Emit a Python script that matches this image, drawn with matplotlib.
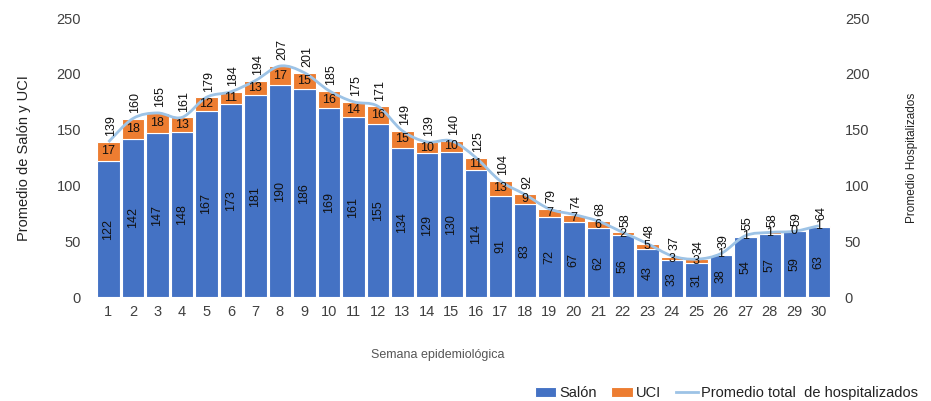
import matplotlib.pyplot as plt
import numpy as np
from matplotlib.path import Path
from matplotlib.patches import PathPatch

plt.rcParams['font.family'] = ['Liberation Sans', 'DejaVu Sans']

semanas = list(range(1, 31))
salon = [122, 142, 147, 148, 167, 173, 181, 190, 186, 169, 161, 155, 134, 129, 130,
         114, 91, 83, 72, 67, 62, 56, 43, 33, 31, 38, 54, 57, 59, 63]
uci = [17, 18, 18, 13, 12, 11, 13, 17, 15, 16, 14, 16, 15, 10, 10,
       11, 13, 9, 7, 7, 6, 2, 5, 3, 3, 1, 1, 1, 0, 1]
total = [139, 160, 165, 161, 179, 184, 194, 207, 201, 185, 175, 171, 149, 139, 140,
         125, 104, 92, 79, 74, 68, 58, 48, 37, 34, 39, 55, 58, 59, 64]

azul = '#4472C4'
naranja = '#ED7D31'
celeste = '#9DC3E6'
gris = '#404040'

fig = plt.figure(figsize=(9.31, 4.01), dpi=100)
ax = fig.add_axes([0.102, 0.259, 0.792, 0.696])
ax2 = ax.twinx()

x = np.array(semanas)
ax.bar(x, salon, width=0.92, color=azul, edgecolor='white', linewidth=0.8, label='Salón', zorder=2)
ax.bar(x, uci, width=0.92, bottom=salon, color=naranja, edgecolor='white', linewidth=0.8, label='UCI', zorder=2)

# smooth line like excel (bezier through the data points)
t = np.array(total, dtype=float)
verts = [(x[0], t[0])]
codes = [Path.MOVETO]
for i in range(len(x) - 1):
    p0 = np.array([x[max(i - 1, 0)], t[max(i - 1, 0)]])
    p1 = np.array([x[i], t[i]])
    p2 = np.array([x[i + 1], t[i + 1]])
    p3 = np.array([x[min(i + 2, len(x) - 1)], t[min(i + 2, len(x) - 1)]])
    c1 = p1 + (p2 - p0) / 6
    c2 = p2 - (p3 - p1) / 6
    verts += [tuple(c1), tuple(c2), tuple(p2)]
    codes += [Path.CURVE4] * 3
ax.add_patch(PathPatch(Path(verts, codes), facecolor='none', edgecolor=celeste, lw=2, zorder=3))
ax.plot([], [], color=celeste, lw=2, label='Promedio total  de hospitalizados')

for xi, s, u, tt in zip(x, salon, uci, total):
    ax.text(xi, s / 2, str(s), rotation=90, ha='center', va='center', fontsize=9, color='#111111', zorder=4)
    ax.text(xi, s + u / 2, str(u), ha='center', va='center', fontsize=9, color='#111111', zorder=4)
    ax.text(xi + 0.1, tt + 5, str(tt), rotation=90, ha='center', va='bottom', fontsize=9, color='#111111', zorder=4)

for a in (ax, ax2):
    a.set_ylim(0, 250)
    a.set_yticks([0, 50, 100, 150, 200, 250])
    for sp in a.spines.values():
        sp.set_visible(False)
    a.tick_params(length=0, labelsize=10.5, colors=gris)
ax.set_xlim(0.45, 30.55)
ax.set_xticks(semanas)
ax.tick_params(axis='x', pad=6)
ax.tick_params(axis='y', pad=10)
ax2.tick_params(axis='y', pad=9)

ax.set_ylabel('Promedio de Salón y UCI', fontsize=10.5, color='#222222', labelpad=18)
ax2.set_ylabel('Promedio Hospitalizados', fontsize=8.5, color='#222222', labelpad=26)
fig.text(0.47, 0.115, 'Semana epidemiológica', ha='center', va='center', fontsize=9, color='#555555')

h, l = ax.get_legend_handles_labels()
order = [1, 2, 0]
fig.legend([h[i] for i in order], [l[i] for i in order], loc='center right',
           bbox_to_anchor=(1.0, 0.02), ncol=3, frameon=False, fontsize=10.5,
           handlelength=1.5, handletextpad=0.2, columnspacing=1.0, labelcolor='#222222')

fig.savefig('out.png', dpi=100)
